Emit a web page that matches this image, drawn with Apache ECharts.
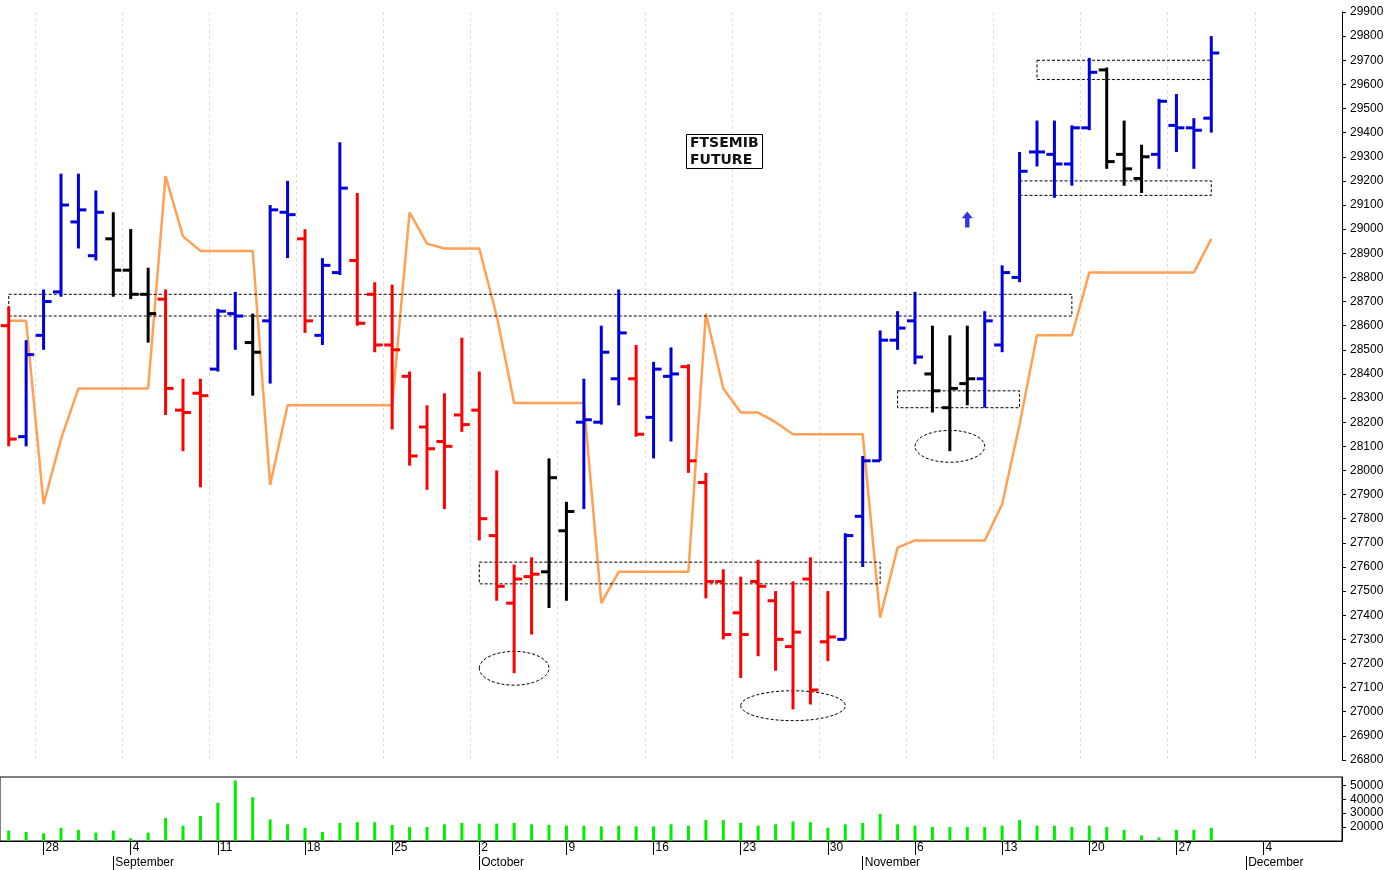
<!DOCTYPE html><html><head><meta charset="utf-8">
<script src="https://cdn.jsdelivr.net/npm/echarts@6/dist/echarts.min.js"></script>
<style>html,body{margin:0;padding:0;background:#fff}#c{width:1391px;height:870px}</style></head><body><div id="c"></div>
<script>
// bar colour class: b=blue(up), r=red(down), k=black
const barColors = "rbbbbbkkkrrrbbkbbrbbrrrrrrrrrrrkkbbbrbbrrrrrrrrrbbbbbkkkbbbbbbbkkkbbbb".split("");
const opens  = [28600,28140,28560,28740,29030,28890,28960,28830,28730,28710,28250,28320,28420,28650,28530,28620,29070,28960,28560,28820,28870,28730,28520,28390,28180,28120,28230,28250,27730,27450,27560,27580,27750,28200,28200,28380,28380,28220,28390,28430,27950,27540,27410,27540,27460,27270,27550,27290,27300,27810,28040,28540,28620,28400,28260,28360,28380,28520,28800,29320,29310,29270,29420,29660,29310,29210,29310,29430,29420,29460];
const highs  = [28680,28540,28750,29230,29230,29160,29070,29000,28840,28750,28380,28380,28670,28740,28650,29100,29200,29000,28880,29360,29150,28780,28770,28410,28270,28320,28550,28410,28000,27610,27640,28050,27870,28380,28600,28750,28520,28450,28510,28440,27990,27590,27560,27630,27500,27540,27640,27500,27740,28060,28580,28660,28740,28600,28560,28600,28660,28850,29320,29450,29450,29430,29710,29670,29450,29350,29540,29560,29460,29800];
const lows   = [28100,28100,28500,28720,28920,28870,28720,28710,28530,28230,28080,27930,28410,28500,28310,28360,28880,28570,28520,28810,28600,28490,28170,28020,27920,27840,28160,27710,27460,27160,27320,27430,27460,27840,28190,28270,28140,28050,28120,27990,27470,27300,27140,27230,27170,27010,27030,27210,27300,27600,28040,28500,28440,28240,28080,28270,28260,28490,28780,29260,29130,29180,29410,29250,29180,29150,29250,29320,29250,29400];
const closes = [28130,28480,28700,29100,29080,29070,28830,28730,28650,28340,28240,28310,28660,28640,28490,29080,29060,28620,28850,29170,28610,28520,28500,28060,28090,28100,28190,27800,27520,27550,27570,27970,27830,28210,28490,28570,28150,28420,28400,28040,27540,27320,27320,27520,27300,27330,27090,27310,27730,28040,28540,28590,28470,28330,28340,28380,28620,28820,29240,29320,29270,29420,29650,29280,29250,29300,29530,29420,29410,29730];
const trail  = [28620,28620,27860,28130,28340,28340,28340,28340,28340,29220,28970,28910,28910,28910,28910,27940,28270,28270,28270,28270,28270,28270,28270,29070,28940,28920,28920,28920,28640,28280,28280,28280,28280,28280,27450,27580,27580,27580,27580,27580,28650,28340,28240,28240,28200,28150,28150,28150,28150,28150,27390,27680,27710,27710,27710,27710,27710,27860,28190,28560,28560,28560,28820,28820,28820,28820,28820,28820,28820,28960];
const volumes= [17500,16500,15500,19500,18000,16000,17500,12000,16000,26500,21000,28000,37500,53500,41500,25500,22000,19500,16500,23000,23500,23500,21500,20000,20000,22000,23000,22500,22500,23000,22000,21500,21000,21000,20500,21000,20500,20500,22000,21000,25000,25000,23000,21000,22000,24000,23500,19500,22000,23000,29500,22000,21000,20000,20000,20000,20000,21000,25000,21000,21000,20000,21000,20000,18000,14000,12500,18000,18000,19500];
// annotation boxes [fromIndex, toIndex, lowPrice, highPrice]
const boxes = [[-0.5,61.1,28640,28730],[27,50,27530,27620],[51,58,28260,28330],[59.1,69.1,29620,29700],[58,69,29140,29200]];
// dashed ellipses [centerIndex, centerPrice, halfWidthIdx, halfHeightPrice]
const ellipses = [[29,27180,2,70],[45,27025,2.5,62],[54,28100,2,66]];
const arrowPoint = [55,29040];
const monthNames = ["January","February","March","April","May","June","July","August","September","October","November","December"];

const days=[];
for(let d=new Date(2023,7,24); d<=new Date(2023,11,8); d.setDate(d.getDate()+1)){
  const w=d.getDay(); if(w===0||w===6) continue;
  days.push({d:d.getDate(),m:d.getMonth(),w:w});
}
const cats=days.map((x,i)=>String(i));
const isMon=i=>days[i].w===1;
const isMonthStart=i=>i>0&&days[i].m!==days[i-1].m;
const colMap={b:'#0000dd',r:'#ff0000',k:'#000000'};
const ohlc=opens.map((o,i)=>[i,o,highs[i],lows[i],closes[i],barColors[i]]);

const chart=echarts.init(document.getElementById('c'));
chart.setOption({
  animation:false,
  title:{text:'FTSEMIB\nFUTURE',left:686,top:134,borderColor:'#000',borderWidth:1,padding:[1,4,0,4],
    textStyle:{fontSize:14,fontWeight:'bold',fontFamily:'DejaVu Sans',lineHeight:17,color:'#111'},textAlign:'left'},
  grid:[{left:0,right:49,top:12,height:748,show:false},
        {left:0,right:49,top:777,height:64,show:true,borderColor:'#000',borderWidth:1}],
  xAxis:[
    {type:'category',gridIndex:0,data:cats,boundaryGap:true,axisLine:{show:false},axisTick:{show:false},axisLabel:{show:false},
     splitLine:{show:true,interval:(i)=>isMon(i),lineStyle:{color:'#ddd',type:[3,3]}}},
    {type:'category',gridIndex:1,data:cats,boundaryGap:true,position:'bottom',axisLine:{lineStyle:{color:'#000'}},
     axisTick:{show:true,alignWithLabel:true,interval:(i)=>isMon(i),length:14,lineStyle:{color:'#000'}},
     axisLabel:{interval:(i)=>isMon(i),formatter:(v)=>days[+v].d,align:'left',padding:[0,0,0,2],margin:1,fontSize:12,color:'#000',fontFamily:'Liberation Sans'}},
    {type:'category',gridIndex:1,data:cats,boundaryGap:true,position:'bottom',offset:15,axisLine:{show:false},
     axisTick:{show:true,alignWithLabel:true,interval:(i)=>isMonthStart(i),length:14,lineStyle:{color:'#000'}},
     axisLabel:{interval:(i)=>isMonthStart(i),formatter:(v)=>monthNames[days[+v].m],align:'left',padding:[0,0,0,2],margin:1,fontSize:12,color:'#000',fontFamily:'Liberation Sans'}}
  ],
  yAxis:[
    {type:'value',gridIndex:0,position:'right',min:26800,max:29900,interval:100,scale:true,
     axisLine:{show:true,lineStyle:{color:'#000'}},axisTick:{show:true,length:4},splitLine:{show:false},
     axisLabel:{formatter:(v)=>String(v),fontSize:12,color:'#000',margin:8,fontFamily:'Liberation Sans'}},
    {type:'value',gridIndex:1,position:'right',min:10000,max:56000,interval:10000,
     axisLine:{show:true,lineStyle:{color:'#000'}},axisTick:{show:true,length:4},splitLine:{show:false},
     axisLabel:{formatter:(v)=>String(v),showMinLabel:false,fontSize:12,color:'#000',margin:8,fontFamily:'Liberation Sans'}}
  ],
  series:[
    {type:'line',xAxisIndex:0,yAxisIndex:0,data:trail,symbol:'none',lineStyle:{color:'#ffa055',width:2.5},z:1},
    {type:'custom',xAxisIndex:0,yAxisIndex:0,data:boxes,z:2,renderItem:(p,api)=>{
      const a=api.coord([api.value(0),api.value(3)]),b=api.coord([api.value(1),api.value(2)]);
      return {type:'rect',shape:{x:a[0],y:a[1],width:b[0]-a[0],height:b[1]-a[1]},style:{fill:'none',stroke:'#000',lineWidth:1,lineDash:[3,2]}};}},
    {type:'custom',xAxisIndex:0,yAxisIndex:0,data:ellipses,z:2,renderItem:(p,api)=>{
      const c=api.coord([api.value(0),api.value(1)]),e=api.coord([api.value(0)+api.value(2),api.value(1)+api.value(3)]);
      return {type:'ellipse',shape:{cx:c[0],cy:c[1],rx:e[0]-c[0],ry:c[1]-e[1]},style:{fill:'none',stroke:'#000',lineWidth:1,lineDash:[3,2]}};}},
    {type:'custom',xAxisIndex:0,yAxisIndex:0,data:ohlc,z:5,renderItem:(p,api)=>{
      const i=api.value(0),col=colMap[ohlc[p.dataIndex][5]];
      const h=api.coord([i,api.value(2)]),l=api.coord([i,api.value(3)]),o=api.coord([i,api.value(1)]),c=api.coord([i,api.value(4)]);
      const st={stroke:col,lineWidth:3};
      return {type:'group',children:[
        {type:'line',shape:{x1:h[0],y1:h[1],x2:l[0],y2:l[1]},style:st},
        {type:'line',shape:{x1:o[0]-8,y1:o[1],x2:o[0],y2:o[1]},style:st},
        {type:'line',shape:{x1:c[0],y1:c[1],x2:c[0]+8,y2:c[1]},style:st}]};}},
    {type:'scatter',xAxisIndex:0,yAxisIndex:0,data:[arrowPoint],symbol:'path://M5,0 L10,6 L7,6 L7,14 L3,14 L3,6 L0,6 Z',symbolSize:[11,16],itemStyle:{color:'#0000dd'},z:6},
    {type:'bar',xAxisIndex:1,yAxisIndex:1,data:volumes,barWidth:3,itemStyle:{color:'#00ee00'}}
  ]
});
</script></body></html>
